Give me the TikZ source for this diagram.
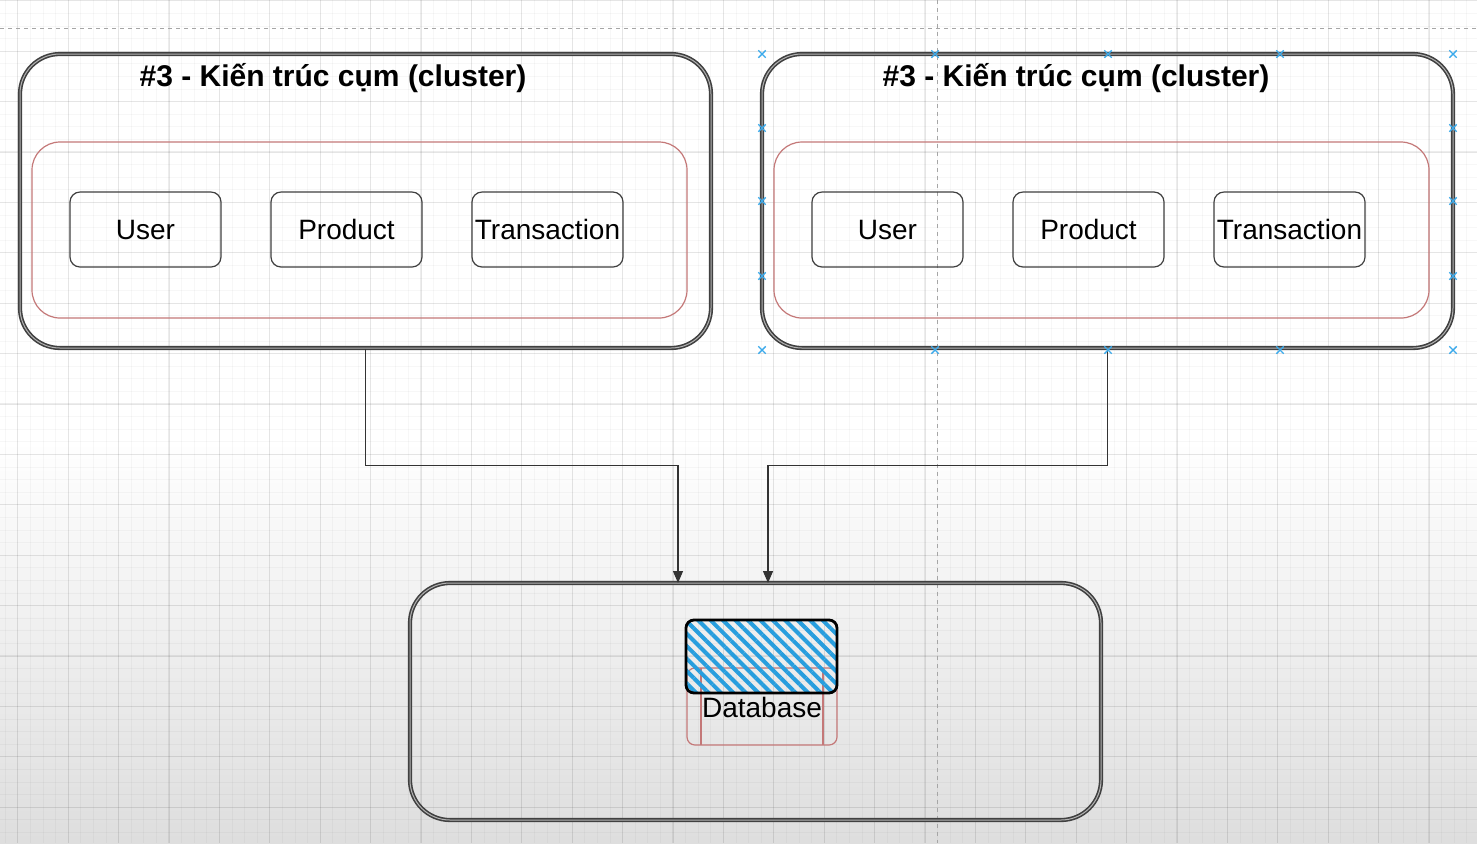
\documentclass[tikz,border=0pt]{standalone}
\usepackage{fontspec}
\setmainfont{Liberation Sans}
\usetikzlibrary{arrows.meta,patterns.meta,shapes.misc}
\definecolor{redline}{RGB}{196,120,120}
\definecolor{hatchblue}{RGB}{40,158,222}
\definecolor{handleblue}{RGB}{60,170,235}

\begin{document}
\begin{tikzpicture}[x=0.5pt,y=-0.5pt,
  cluster/.style={draw=black!75, double=black!30, double distance=0.5pt, line width=0.8pt, rounded corners=20pt, inner sep=0pt},
  group/.style={draw=redline, line width=0.6pt, rounded corners=14pt, inner sep=0pt},
  svc/.style={draw=black!75, line width=0.6pt, rounded corners=5pt, minimum width=75.5pt, minimum height=37.5pt, inner sep=0pt, font=\fontsize{14}{17}\selectfont},
  title/.style={font=\bfseries\fontsize{15}{18}\selectfont},
  flow/.style={draw=black!80, line width=0.6pt, -{Triangle[length=6pt,width=5pt]}},
  minorgrid/.style={draw=black, opacity=0.03, line width=0.5pt},
  majorgrid/.style={draw=black, opacity=0.07, line width=0.6pt},
  guide/.style={draw=black!35, line width=0.5pt, dash pattern=on 2pt off 2pt},
  handle/.style={cross out, draw=handleblue, line width=0.7pt, minimum size=3pt, inner sep=0pt}
]
\useasboundingbox (0,0) rectangle (1477,843);

% canvas
\fill[white] (0,0) rectangle (1477,440);
\shade[top color=white, bottom color=black!13] (0,440) rectangle (1477,843);
\foreach \i in {0,...,117} {\draw[minorgrid] ({5.2+12.6*\i},0) -- ({5.2+12.6*\i},843);}
\foreach \i in {0,...,66} {\draw[minorgrid] (0,{0.8+12.6*\i}) -- (1477,{0.8+12.6*\i});}
\foreach \i in {0,...,28} {\draw[majorgrid] ({17.8+50.4*\i},0) -- ({17.8+50.4*\i},843);}
\foreach \i in {0,...,16} {\draw[majorgrid] (0,{0.8+50.4*\i}) -- (1477,{0.8+50.4*\i});}
\draw[guide] (937,0) -- (937,843);
\draw[guide] (0,28) -- (1477,28);

% left cluster
\node[cluster, minimum width=345.5pt, minimum height=147pt] (lclu) at (365.5,201) {};
\node[title] (ltitle) at (333,78) {\#3 - Kiến trúc cụm (cluster)};
\node[group, minimum width=327.5pt, minimum height=88pt] (lgrp) at (359.5,230) {};
\node[svc] (luser) at (145.5,229.5) {User};
\node[svc] (lprod) at (346.5,229.5) {Product};
\node[svc] (ltrans) at (547.5,229.5) {Transaction};

% right cluster
\node[cluster, minimum width=345.5pt, minimum height=147pt] (rclu) at (1107.5,201) {};
\node[title] (rtitle) at (1076,78) {\#3 - Kiến trúc cụm (cluster)};
\node[group, minimum width=327.5pt, minimum height=88pt] (rgrp) at (1101.5,230) {};
\node[svc] (ruser) at (887.5,229.5) {User};
\node[svc] (rprod) at (1088.5,229.5) {Product};
\node[svc] (rtrans) at (1289.5,229.5) {Transaction};

% database box
\node[cluster, minimum width=345.5pt, minimum height=118.5pt] (dbbox) at (755.5,701.5) {};
\node[draw=redline, line width=0.6pt, rounded corners=4pt, minimum width=75pt, minimum height=38.5pt, inner sep=0pt] (dbproc) at (762,706.5) {};
\draw[redline, line width=0.6pt] (701,668) -- (701,745);
\draw[redline, line width=0.6pt] (823,668) -- (823,745);
\node[draw=black, line width=1.4pt, rounded corners=4pt, minimum width=75.5pt, minimum height=36.5pt, inner sep=0pt,
  pattern={Lines[angle=-45,distance=4.4pt,line width=2pt]}, pattern color=hatchblue] (dbhatch) at (761.5,656.5) {};
\node[font=\fontsize{14}{17}\selectfont] (dblabel) at (762,707) {Database};

% links
\coordinate (din1) at (678,583);
\coordinate (din2) at (768,583);
\draw[flow] (lclu.south) -- ++(0,117) -| (din1);
\draw[flow] (rclu.south) -- ++(0,117) -| (din2);

% selection handles
\foreach \hx/\hy in {762/54,935/54,1108/54,1280/54,1453/54,762/128,1453/128,762/201,1453/201,762/276,1453/276,762/350,935/350,1108/350,1280/350,1453/350}
  {\node[handle] at (\hx,\hy) {};}
\end{tikzpicture}
\end{document}
